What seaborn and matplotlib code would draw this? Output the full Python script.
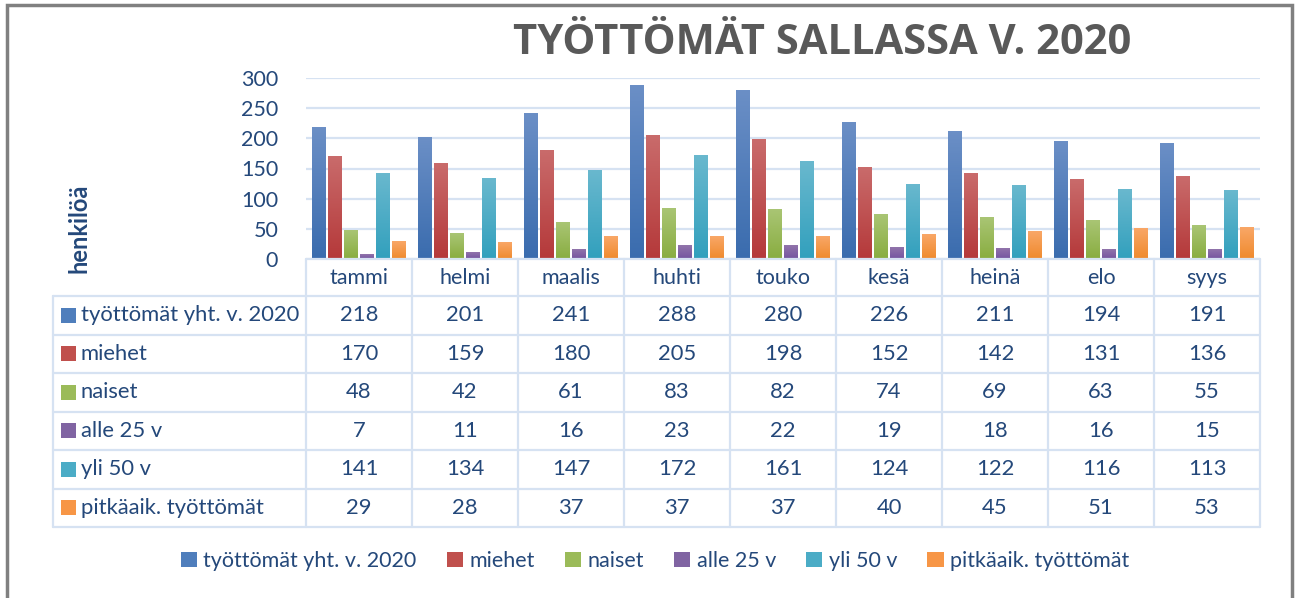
import numpy as np
import pandas as pd
import matplotlib
matplotlib.use("Agg")
import matplotlib.pyplot as plt
import seaborn as sns
from matplotlib.patches import Rectangle, Patch
from matplotlib.transforms import blended_transform_factory
from matplotlib.colors import LinearSegmentedColormap

months = ["tammi", "helmi", "maalis", "huhti", "touko", "kesä", "heinä", "elo", "syys"]
series_names = ["työttömät yht. v. 2020", "miehet", "naiset", "alle 25 v", "yli 50 v",
                "pitkäaik. työttömät"]
total = [218, 201, 241, 288, 280, 226, 211, 194, 191]
men = [170, 159, 180, 205, 198, 152, 142, 131, 136]
women = [48, 42, 61, 83, 82, 74, 69, 63, 55]
under25 = [7, 11, 16, 23, 22, 19, 18, 16, 15]
over50 = [141, 134, 147, 172, 161, 124, 122, 116, 113]
longterm = [29, 28, 37, 37, 37, 40, 45, 51, 53]
yticks = [0, 50, 100, 150, 200, 250, 300]

series_values = [total, men, women, under25, over50, longterm]
top_colors = ["#6b8fc6", "#c96b6b", "#a9c574", "#9174ab", "#69b8ce", "#f9a767"]
bot_colors = ["#3a6cae", "#b5393a", "#89ad40", "#7454a0", "#32a0bd", "#ef8a2d"]
mid_colors = ["#4f7ebc", "#c0504d", "#9bbb59", "#8064a2", "#4bacc6", "#f79646"]
text_color = "#24487a"
line_color = "#d6e2f2"

rows = []
for name, vals in zip(series_names, series_values):
    for m, v in zip(months, vals):
        rows.append({"kuukausi": m, "sarja": name, "arvo": v})
df = pd.DataFrame(rows)

sns.set_theme(style="white")
plt.rcParams["font.family"] = ["Lato", "DejaVu Sans"]

W, H = 1295, 598
fig = plt.figure(figsize=(W / 100, H / 100), dpi=100)

def fx(px):
    return px / W

def fy(py):
    return 1 - py / H

ax_left, ax_right, ax_top, ax_bot = 306, 1260, 78, 259
ax = fig.add_axes([fx(ax_left), fy(ax_bot), fx(ax_right - ax_left), (ax_bot - ax_top) / H])

sns.barplot(data=df, x="kuukausi", y="arvo", hue="sarja", order=months,
            hue_order=series_names, palette=mid_colors, width=0.9, gap=0.12,
            ax=ax, legend=False, saturation=1)

# gradient fill of bars
for i, cont in enumerate(ax.containers):
    cmap = LinearSegmentedColormap.from_list("g%d" % i, [bot_colors[i], top_colors[i]])
    grad = np.linspace(0, 1, 64).reshape(-1, 1)
    for p in cont.patches:
        x0, y0 = p.get_x(), p.get_y()
        w, h = p.get_width(), p.get_height()
        p.set_edgecolor("none")
        ax.imshow(grad, cmap=cmap, origin="lower", aspect="auto",
                  extent=[x0, x0 + w, y0, y0 + h], zorder=3)

ax.set_xlim(-0.5, len(months) - 0.5)
ax.set_ylim(0, 300)
ax.set_yticks(yticks)
ax.set_yticklabels([str(t) for t in yticks], color=text_color, fontsize=15.5)
ax.tick_params(axis="y", length=0, pad=20)
ax.set_xticks([])
ax.set_xlabel("")
ax.set_ylabel("")
for s in ax.spines.values():
    s.set_visible(False)
ax.grid(axis="y", color=line_color, linewidth=1.6, zorder=0)
ax.set_axisbelow(True)

# table
trans = blended_transform_factory(ax.transData, fig.transFigure)
row_edges = [296, 334.5, 373, 411.5, 450, 488.5, 527]
table_left = 53
lw = 1.6
fig.add_artist(plt.Line2D([fx(ax_left), fx(ax_right)], [fy(ax_bot), fy(ax_bot)],
                          color=line_color, lw=lw))
for i in range(len(months) + 1):
    xv = ax_left + i * (ax_right - ax_left) / len(months)
    fig.add_artist(plt.Line2D([fx(xv), fx(xv)], [fy(ax_bot), fy(row_edges[-1])],
                              color=line_color, lw=lw))
fig.add_artist(plt.Line2D([fx(table_left), fx(table_left)], [fy(row_edges[0]), fy(row_edges[-1])],
                          color=line_color, lw=lw))
for ye in row_edges:
    fig.add_artist(plt.Line2D([fx(table_left), fx(ax_right)], [fy(ye), fy(ye)],
                              color=line_color, lw=lw))

for i, m in enumerate(months):
    ax.text(i, fy(278), m, transform=trans, ha="center", va="center",
            color=text_color, fontsize=15.5)

for r, (name, vals) in enumerate(zip(series_names, series_values)):
    yc = (row_edges[r] + row_edges[r + 1]) / 2
    fig.add_artist(Rectangle((fx(61), fy(yc + 7.5)), fx(15), 15 / H,
                             facecolor=mid_colors[r], edgecolor="none"))
    fig.text(fx(81), fy(yc), name, ha="left", va="center", color=text_color, fontsize=15.8)
    for i, v in enumerate(vals):
        ax.text(i, fy(yc), str(v), transform=trans, ha="center", va="center",
                color=text_color, fontsize=15.8)

fig.text(fx(79), fy(228), "henkilöä", rotation=90, ha="center", va="center",
         color=text_color, fontsize=17, fontweight="bold")

fig.text(fx(822), fy(44), "TYÖTTÖMÄT SALLASSA V. 2020", ha="center", va="center",
         color="#595959", fontsize=30, fontweight="bold", family=["Open Sans", "DejaVu Sans"])

handles = [Patch(facecolor=c, edgecolor="none", label=n) for c, n in zip(mid_colors, series_names)]
fig.legend(handles=handles, loc="center", bbox_to_anchor=(fx(655), fy(561)), ncol=6,
           frameon=False, fontsize=15.5, handlelength=0.75, handleheight=0.75,
           handletextpad=0.3, columnspacing=1.4, labelcolor=text_color)

fig.add_artist(Rectangle((fx(7), fy(610)), fx(1285), (610 - 5) / H, fill=False,
                         edgecolor="#808080", lw=2.5))

fig.savefig("out.png", dpi=100)
